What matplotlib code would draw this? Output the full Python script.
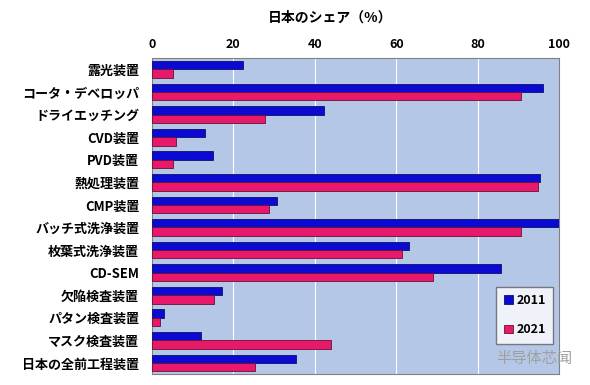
import matplotlib
matplotlib.use("Agg")
import matplotlib.pyplot as plt
import numpy as np

plt.rcParams['font.family'] = ['Noto Sans CJK JP', 'DejaVu Sans']

# data
categories = ["露光装置", "コータ・デベロッパ", "ドライエッチング", "CVD装置", "PVD装置",
              "熱処理装置", "CMP装置", "バッチ式洗浄装置", "枚葉式洗浄装置", "CD-SEM",
              "欠陥検査装置", "パタン検査装置", "マスク検査装置", "日本の全前工程装置"]
share_2011 = [22.5, 96.0, 42.3, 13.2, 15.0, 95.2, 30.7, 100.0, 63.1, 85.6, 17.2, 3.1, 12.0, 35.3]
share_2021 = [5.3, 90.7, 27.7, 6.0, 5.3, 94.8, 28.7, 90.7, 61.5, 68.9, 15.2, 2.1, 43.9, 25.4]
years = ["2011", "2021"]
xticks = [0, 20, 40, 60, 80, 100]

fig = plt.figure(figsize=(5.9, 3.85), dpi=100)
ax = fig.add_axes([0.257, 0.028, 0.691, 0.821])

y = np.arange(len(categories))
h = 0.37
ax.barh(y - h / 2, share_2011, height=h, color="#0a0ad2", edgecolor="#10106a", linewidth=0.6,
        label=years[0], zorder=3)
ax.barh(y + h / 2, share_2021, height=h, color="#e8186a", edgecolor="#6a1030", linewidth=0.6,
        label=years[1], zorder=3)

ax.set_facecolor("#b4c7e6")
ax.set_xlim(0, 100)
ax.set_ylim(len(categories) - 0.5, -0.5)
ax.set_xticks(xticks)
ax.xaxis.tick_top()
ax.tick_params(axis="x", length=0, labelsize=9, pad=5)
ax.tick_params(axis="y", length=0, labelsize=9.4, pad=9)
ax.set_yticks(y)
ax.set_yticklabels(categories, fontweight="bold")
for lab in ax.get_xticklabels():
    lab.set_fontweight("bold")
ax.grid(axis="x", color="white", linewidth=0.8, zorder=1)
for s in ax.spines.values():
    s.set_color("#808080")
    s.set_linewidth(0.8)

fig.text(0.56, 0.955, "日本のシェア（%）", ha="center", va="center", fontsize=10, fontweight="bold")

leg = ax.legend(loc="lower right", bbox_to_anchor=(0.985, 0.096), borderaxespad=0, fontsize=9,
                frameon=True, fancybox=False, edgecolor="#606060", handlelength=0.7,
                handleheight=0.7, labelspacing=1.3, borderpad=0.6, handletextpad=0.3)
leg.get_frame().set_facecolor("white")
for t in leg.get_texts():
    t.set_fontweight("bold")

fig.text(0.97, 0.07, "半导体芯闻", ha="right", va="center", fontsize=11, color="#a0a0a0",
         family=['Noto Sans CJK SC', 'DejaVu Sans'])

fig.savefig("out.png", dpi=100)
